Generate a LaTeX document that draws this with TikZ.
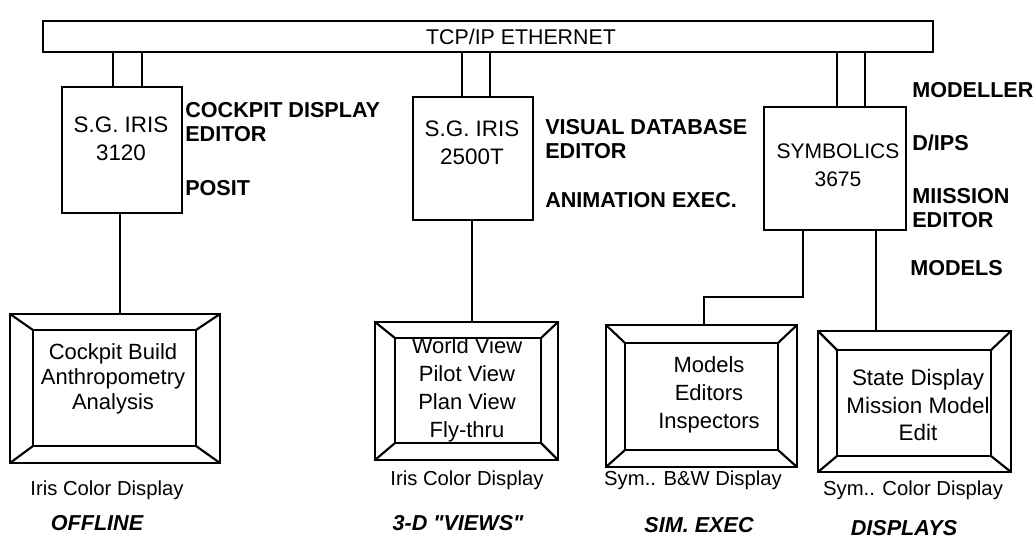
\documentclass[tikz,border=0pt]{standalone}
\usepackage{fontspec}
\setmainfont{Liberation Sans}[Ligatures=TeXOff]
\usetikzlibrary{fit}
\newcommand\drawmonitor[9]{%
  \coordinate (#1oa) at (#2,#3); \coordinate (#1ob) at (#4,#5);
  \node[monout, fit=(#1oa)(#1ob)] (#1o) {};
  \coordinate (#1ia) at (#6,#7); \coordinate (#1ib) at (#8,#9);
  \node[monin, fit=(#1ia)(#1ib)] (#1i) {};
  \foreach \c in {north west,north east,south west,south east}
    \draw[wire] (#1o.\c) -- (#1i.\c);
}
\newcommand\drawbox[5]{%
  \coordinate (#1a) at (#2,#3); \coordinate (#1b) at (#4,#5);
  \node[hostbox, fit=(#1a)(#1b)] (#1) {};
}
\begin{document}
\begin{tikzpicture}[x=0.75pt,y=-0.75pt,
  wire/.style={line width=1.6pt},
  hostbox/.style={draw, line width=1.6pt, inner sep=0pt, outer sep=0pt},
  monout/.style={draw, line width=2.1pt, inner sep=0pt, outer sep=0pt},
  monin/.style={draw, line width=1.7pt, inner sep=0pt, outer sep=0pt},
  txt/.style={font=\fontsize{15.2}{21}\selectfont, inner sep=0pt, align=center},
  htxt/.style={font=\fontsize{16.8}{21}\selectfont, inner sep=0pt, align=center},
  mtxt/.style={font=\fontsize{16.5}{21}\selectfont, inner sep=0pt, align=center},
  lbl/.style={font=\bfseries\fontsize{16.2}{18.5}\selectfont, inner sep=0pt, anchor=west, align=left},
  captxt/.style={font=\bfseries\itshape\fontsize{16.2}{19}\selectfont, inner sep=0pt}]
\useasboundingbox (0,0) rectangle (1036,544);

% Ethernet bar
\coordinate (bara) at (43,21); \coordinate (barb) at (933,52);
\node[hostbox, fit=(bara)(barb)] (bar) {};
\node[txt, font=\fontsize{16}{19}\selectfont] (eth) at (521,37) {TCP/IP ETHERNET};

% host boxes
\drawbox{h1}{62}{87}{182}{213}
\drawbox{h2}{413}{97}{533}{220}
\drawbox{h3}{764}{107}{906}{230}
\node[htxt] (h1t) at (121,139) {S.G. IRIS\\3120};
\node[htxt] (h2t) at (472,143) {S.G. IRIS\\2500T};
\node[htxt, font=\fontsize{15.8}{21}\selectfont] (h3t) at (838,165) {SYMBOLICS\\3675};

% bar-to-host connectors
\foreach \n/\x in {h1/113,h1/142,h2/462,h2/490,h3/837,h3/865}{
  \coordinate (tmp) at (\x,0);
  \draw[wire] (bar.south -| tmp) -- (\n.north -| tmp);
}

% labels
\node[lbl] (l1) at (185,122) {COCKPIT DISPLAY\\EDITOR};
\node[lbl] (l2) at (185,188) {POSIT};
\node[lbl] (l3) at (545,139) {VISUAL DATABASE\\EDITOR};
\node[lbl] (l4) at (545,200) {ANIMATION EXEC.};
\node[lbl] (l5) at (912,90) {MODELLER};
\node[lbl] (l6) at (912,143) {D/IPS};
\node[lbl] (l7) at (912,208) {MIISSION\\EDITOR};
\node[lbl] (l8) at (910,268) {MODELS};

% monitors
\drawmonitor{m1}{10}{314}{220}{463}{33}{330}{196}{446}
\drawmonitor{m2}{375}{322}{558}{460}{395}{338}{541}{443}
\drawmonitor{m3}{606}{325}{797}{467}{625}{343}{778}{450}
\drawmonitor{m4}{818}{331}{1011}{472}{837}{350}{991}{456}

\node[mtxt, font=\fontsize{16.5}{18.8}\selectfont] (m1t) at (113,379) {Cockpit Build\\Anthropometry\\Analysis};
\node[mtxt] (m2t) at (467,390) {World View\\Pilot View\\Plan View\\Fly-thru};
\node[mtxt] (m3t) at (709,395) {Models\\Editors\\Inspectors};
\node[mtxt, font=\fontsize{16.8}{20.5}\selectfont] (m4t) at (918,405) {State Display\\Mission Model\\Edit};

\node[txt] (c1) at (107,490) {Iris Color Display};
\node[txt] (c2) at (467,480) {Iris Color Display};
\node[txt] (c3) at (693,480) {Sym.. B\&W Display};
\node[txt] (c4) at (913,490) {Sym.. Color Display};

\node[captxt] (k1) at (97,523) {OFFLINE};
\node[captxt] (k2) at (458,523) {3-D "VIEWS"};
\node[captxt] (k3) at (699,525) {SIM. EXEC};
\node[captxt] (k4) at (904,528) {DISPLAYS};

% host-to-monitor connectors
\coordinate (x1) at (120,0);
\draw[wire] (h1.south -| x1) -- (m1o.north -| x1);
\coordinate (x2) at (472,0);
\draw[wire] (h2.south -| x2) -- (m2o.north -| x2);
\coordinate (x3) at (803,0);
\coordinate (y3) at (0,297);
\coordinate (x3b) at (704,0);
\draw[wire] (h3.south -| x3) -- (x3 |- y3) -- (x3b |- y3) -- (m3o.north -| x3b);
\coordinate (x4) at (876,0);
\draw[wire] (h3.south -| x4) -- (m4o.north -| x4);
\end{tikzpicture}
\end{document}
